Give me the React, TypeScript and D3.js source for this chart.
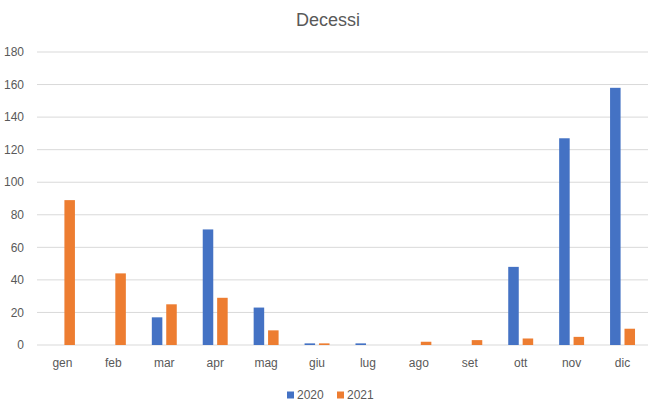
import * as d3 from "d3";
import { useEffect, useRef } from "react";

const months = ["gen", "feb", "mar", "apr", "mag", "giu", "lug", "ago", "set", "ott", "nov", "dic"];
const deaths2020 = [0, 0, 17, 71, 23, 1, 1, 0, 0, 48, 127, 158];
const deaths2021 = [89, 44, 25, 29, 9, 1, 0, 2, 3, 4, 5, 10];
const seriesNames = ["2020", "2021"];
const seriesColors = ["#4472C4", "#ED7D31"];
const yTicks = [0, 20, 40, 60, 80, 100, 120, 140, 160, 180];

const width = 650;
const height = 412;
const font = "'Liberation Sans', Arial, sans-serif";

export default function App() {
  const svgRef = useRef<SVGSVGElement>(null);

  useEffect(() => {
    if (!svgRef.current) return;
    const svg = d3.select(svgRef.current);
    svg.selectAll("*").remove();

    const left = 37;
    const right = 648;
    const top = 52;
    const bottom = 345;

    const x = d3.scaleBand<string>().domain(months).range([left, right]);
    const y = d3.scaleLinear().domain([0, 180]).range([bottom, top]);
    const pairWidth = x.bandwidth() * 0.49;
    const inner = d3
      .scaleBand<string>()
      .domain(seriesNames)
      .range([(x.bandwidth() - pairWidth) / 2, (x.bandwidth() + pairWidth) / 2])
      .paddingInner(0.27);

    svg.append("rect").attr("width", width).attr("height", height).attr("fill", "#fff");

    // title
    svg
      .append("text")
      .attr("x", 328)
      .attr("y", 26)
      .attr("text-anchor", "middle")
      .attr("font-family", font)
      .attr("font-size", 18)
      .attr("fill", "#595959")
      .text("Decessi");

    // grid + y labels
    const grid = svg.append("g");
    yTicks.forEach((t) => {
      grid
        .append("line")
        .attr("x1", left)
        .attr("x2", right)
        .attr("y1", y(t))
        .attr("y2", y(t))
        .attr("stroke", "#D9D9D9")
        .attr("stroke-width", 1);
      grid
        .append("text")
        .attr("x", 24)
        .attr("y", y(t))
        .attr("dy", "0.35em")
        .attr("text-anchor", "end")
        .attr("font-family", font)
        .attr("font-size", 12)
        .attr("fill", "#595959")
        .text(t);
    });

    // bars
    const series = [deaths2020, deaths2021];
    series.forEach((vals, si) => {
      svg
        .append("g")
        .selectAll("rect")
        .data(vals)
        .join("rect")
        .attr("x", (_, i) => (x(months[i]) ?? 0) + (inner(seriesNames[si]) ?? 0))
        .attr("width", inner.bandwidth())
        .attr("y", (d) => y(d))
        .attr("height", (d) => y(0) - y(d))
        .attr("fill", seriesColors[si]);
    });

    // x labels
    svg
      .append("g")
      .selectAll("text")
      .data(months)
      .join("text")
      .attr("x", (d) => (x(d) ?? 0) + x.bandwidth() / 2)
      .attr("y", 367)
      .attr("text-anchor", "middle")
      .attr("font-family", font)
      .attr("font-size", 12)
      .attr("fill", "#595959")
      .text((d) => d);

    // legend
    const legendX = [287, 337];
    seriesNames.forEach((name, i) => {
      const g = svg.append("g").attr("transform", `translate(${legendX[i]},395)`);
      g.append("rect").attr("x", 0).attr("y", -3.5).attr("width", 7).attr("height", 7).attr("fill", seriesColors[i]);
      g.append("text")
        .attr("x", 10)
        .attr("y", 0)
        .attr("dy", "0.35em")
        .attr("font-family", font)
        .attr("font-size", 12)
        .attr("fill", "#595959")
        .text(name);
    });
  }, []);

  return (
    <svg
      ref={svgRef}
      width={width}
      height={height}
      style={{ position: "absolute", left: 0, top: 0, display: "block" }}
    />
  );
}
